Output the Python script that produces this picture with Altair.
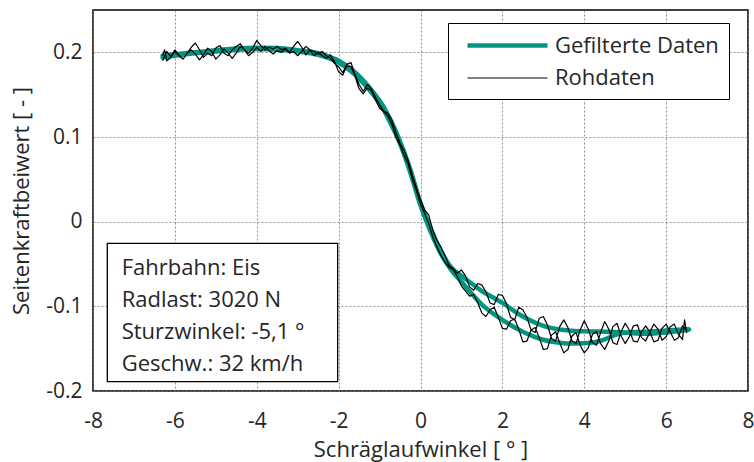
import altair as alt
import pandas as pd

TEAL = "#009682"
FONT = "Open Sans"
SERIES = ["Gefilterte Daten", "Rohdaten"]
X_TICKS = [-8, -6, -4, -2, 0, 2, 4, 6, 8]
Y_TICKS = [-0.2, -0.1, 0, 0.1, 0.2]
INFO_LINES = ["Fahrbahn: Eis", "Radlast: 3020 N", "Sturzwinkel: -5,1 °", "Geschw.: 32 km/h"]

# Filtered data, sweep up (x increasing)
FILT_FWD_X = [-6.3, -5.5, -5.0, -4.5, -4.0, -3.5, -3.0, -2.5, -2.0, -1.5,
              -1.0, -0.75, -0.5, -0.25, 0, 0.25, 0.5, 0.75, 1.0, 1.25,
              1.5, 2.0, 2.5, 3.0, 3.5, 4.0, 4.5, 5.0, 5.5, 6.0, 6.5]
FILT_FWD_Y = [0.196, 0.200, 0.2025, 0.2045, 0.2055, 0.205, 0.2025, 0.199, 0.190, 0.172,
              0.143, 0.122, 0.095, 0.062, 0.022, -0.008, -0.035, -0.054, -0.064, -0.073,
              -0.082, -0.096, -0.112, -0.123, -0.128, -0.1295, -0.130, -0.131, -0.1325, -0.131, -0.128]
# Filtered data, sweep back (x decreasing)
FILT_BWD_X = [6.5, 6.0, 5.5, 5.0, 4.75, 4.5, 4.25, 4.0, 3.5, 3.0,
              2.5, 2.0, 1.5, 1.0, 0.75, 0.5, 0.25, 0, -0.25, -0.5,
              -0.75, -1.0, -1.5, -2.0, -2.5, -3.0, -3.5, -4.0, -4.5, -5.0,
              -5.5, -6.0, -6.3]
FILT_BWD_Y = [-0.127, -0.1285, -0.130, -0.131, -0.134, -0.139, -0.1425, -0.1435, -0.1435, -0.1395,
              -0.130, -0.116, -0.098, -0.071, -0.057, -0.038, -0.012, 0.019, 0.058, 0.092,
              0.118, 0.140, 0.169, 0.188, 0.197, 0.201, 0.203, 0.204, 0.203, 0.201,
              0.199, 0.196, 0.194]

# Raw data, sweep up
RAW_FWD_X = [-6.3, -6.2, -6.1, -6.0, -5.9, -5.8, -5.7, -5.6, -5.5, -5.4,
             -5.3, -5.2, -5.1, -5.0, -4.9, -4.8, -4.7, -4.6, -4.5, -4.4,
             -4.3, -4.2, -4.1, -4.0, -3.9, -3.8, -3.7, -3.6, -3.5, -3.4,
             -3.3, -3.2, -3.1, -3.0, -2.9, -2.8, -2.7, -2.6, -2.5, -2.4,
             -2.3, -2.2, -2.1, -2.0, -1.9, -1.8, -1.7, -1.6, -1.5, -1.4,
             -1.3, -1.2, -1.1, -1.0, -0.9, -0.8, -0.7, -0.6, -0.5, -0.4,
             -0.3, -0.2, -0.1, 0.0, 0.1, 0.2, 0.3, 0.4, 0.5, 0.6,
             0.7, 0.8, 0.9, 1.0, 1.1, 1.2, 1.3, 1.4, 1.5, 1.6,
             1.7, 1.8, 1.9, 2.0, 2.1, 2.2, 2.3, 2.4, 2.5, 2.6,
             2.7, 2.8, 2.9, 3.0, 3.1, 3.2, 3.3, 3.4, 3.5, 3.6,
             3.7, 3.8, 3.9, 4.0, 4.1, 4.2, 4.3, 4.4, 4.5, 4.6,
             4.7, 4.8, 4.9, 5.0, 5.1, 5.2, 5.3, 5.4, 5.5, 5.6,
             5.7, 5.8, 5.9, 6.0, 6.1, 6.2, 6.3, 6.4, 6.5]
RAW_FWD_Y = [0.190, 0.201, 0.195, 0.203, 0.197, 0.192, 0.199, 0.206, 0.211, 0.203,
             0.194, 0.199, 0.196, 0.205, 0.208, 0.199, 0.196, 0.203, 0.207, 0.210,
             0.203, 0.199, 0.205, 0.214, 0.208, 0.203, 0.206, 0.204, 0.207, 0.203,
             0.205, 0.200, 0.207, 0.213, 0.206, 0.197, 0.203, 0.201, 0.198, 0.201,
             0.196, 0.193, 0.187, 0.183, 0.176, 0.186, 0.188, 0.174, 0.162, 0.154,
             0.162, 0.157, 0.147, 0.138, 0.131, 0.128, 0.120, 0.106, 0.093, 0.084,
             0.072, 0.055, 0.040, 0.026, 0.014, 0.008, -0.010, -0.022, -0.030, -0.040,
             -0.052, -0.055, -0.061, -0.057, -0.064, -0.077, -0.081, -0.073, -0.075, -0.083,
             -0.096, -0.098, -0.086, -0.087, -0.097, -0.113, -0.116, -0.101, -0.104, -0.113,
             -0.128, -0.131, -0.114, -0.112, -0.122, -0.138, -0.141, -0.124, -0.116, -0.125,
             -0.141, -0.144, -0.128, -0.117, -0.127, -0.143, -0.146, -0.131, -0.118, -0.127,
             -0.143, -0.145, -0.130, -0.120, -0.128, -0.141, -0.142, -0.130, -0.123, -0.130,
             -0.142, -0.140, -0.126, -0.121, -0.130, -0.140, -0.137, -0.123, -0.128]

# Raw data, sweep back
RAW_BWD_X = [6.5, 6.45, 6.4, 6.3, 6.2, 6.1, 6.0, 5.9, 5.8, 5.7,
             5.6, 5.5, 5.4, 5.3, 5.2, 5.1, 5.0, 4.9, 4.8, 4.7,
             4.6, 4.5, 4.4, 4.3, 4.2, 4.1, 4.0, 3.9, 3.8, 3.7,
             3.6, 3.5, 3.4, 3.3, 3.2, 3.1, 3.0, 2.9, 2.8, 2.7,
             2.6, 2.5, 2.4, 2.3, 2.2, 2.1, 2.0, 1.9, 1.8, 1.7,
             1.6, 1.5, 1.4, 1.3, 1.2, 1.1, 1.0, 0.9, 0.8, 0.7,
             0.6, 0.5, 0.4, 0.3, 0.2, 0.1, 0.0, -0.1, -0.2, -0.3,
             -0.4, -0.5, -0.6, -0.7, -0.8, -0.9, -1.0, -1.1, -1.2, -1.3,
             -1.4, -1.5, -1.6, -1.7, -1.8, -1.9, -2.0, -2.1, -2.2, -2.3,
             -2.4, -2.5, -2.6, -2.7, -2.8, -2.9, -3.0, -3.1, -3.2, -3.3,
             -3.4, -3.5, -3.6, -3.7, -3.8, -3.9, -4.0, -4.1, -4.2, -4.3,
             -4.4, -4.5, -4.6, -4.7, -4.8, -4.9, -5.0, -5.1, -5.2, -5.3,
             -5.4, -5.5, -5.6, -5.7, -5.8, -5.9, -6.0, -6.1, -6.2, -6.25,
             -6.3]
RAW_BWD_Y = [-0.131, -0.116, -0.139, -0.133, -0.121, -0.124, -0.136, -0.140, -0.127, -0.121,
             -0.131, -0.141, -0.137, -0.122, -0.123, -0.136, -0.144, -0.135, -0.120, -0.124,
             -0.141, -0.151, -0.144, -0.130, -0.133, -0.149, -0.155, -0.146, -0.131, -0.135,
             -0.151, -0.155, -0.143, -0.130, -0.134, -0.150, -0.151, -0.137, -0.125, -0.128,
             -0.141, -0.142, -0.127, -0.115, -0.117, -0.127, -0.126, -0.113, -0.101, -0.104,
             -0.112, -0.108, -0.096, -0.086, -0.088, -0.082, -0.076, -0.065, -0.057, -0.054,
             -0.048, -0.040, -0.030, -0.018, -0.002, 0.010, 0.021, 0.036, 0.050, 0.068,
             0.078, 0.090, 0.100, 0.115, 0.125, 0.130, 0.134, 0.144, 0.155, 0.158,
             0.151, 0.157, 0.172, 0.183, 0.184, 0.173, 0.177, 0.189, 0.197, 0.193,
             0.196, 0.200, 0.196, 0.203, 0.207, 0.201, 0.196, 0.201, 0.199, 0.204,
             0.200, 0.202, 0.198, 0.202, 0.207, 0.201, 0.206, 0.200, 0.196, 0.203,
             0.207, 0.199, 0.193, 0.199, 0.204, 0.197, 0.192, 0.201, 0.205, 0.197,
             0.191, 0.198, 0.203, 0.199, 0.192, 0.196, 0.201, 0.194, 0.190, 0.203,
             0.196]

filt_x = FILT_FWD_X + FILT_BWD_X
filt_y = FILT_FWD_Y + FILT_BWD_Y
raw_x = RAW_FWD_X + RAW_BWD_X
raw_y = RAW_FWD_Y + RAW_BWD_Y

df_f = pd.DataFrame({"x": filt_x, "y": filt_y, "i": range(len(filt_x)), "series": SERIES[0]})
df_r = pd.DataFrame({"x": raw_x, "y": raw_y, "i": range(len(raw_x)), "series": SERIES[1]})

W, H = 655, 381
WEIGHT = 400

x_enc = alt.X("x:Q", scale=alt.Scale(domain=[-8, 8], nice=False, zero=False),
              axis=alt.Axis(values=X_TICKS, title="Schräglaufwinkel [ ° ]",
                            labelExpr="datum.value + ''", labelFlush=False, labelOverlap=False,
                            labelPadding=19, titleX=W / 2, titleY=65,
                            titleBaseline="alphabetic", titleAlign="center"))
y_enc = alt.Y("y:Q", scale=alt.Scale(domain=[-0.2, 0.25], nice=False, zero=False),
              axis=alt.Axis(values=Y_TICKS, title="Seitenkraftbeiwert [ - ]",
                            labelExpr="datum.value + ''", labelFlush=False, labelOverlap=False,
                            labelPadding=11, titleX=-60, titleY=H / 2, titleAngle=270,
                            titleBaseline="bottom", titleAlign="center"))

legend = alt.Legend(title=None, orient="none", legendX=355, legendY=13,
                    symbolType="M-4,0H4", symbolSize=400)
color_enc = alt.Color("series:N", scale=alt.Scale(domain=SERIES, range=[TEAL, "black"]), legend=legend)
sw_enc = alt.StrokeWidth("series:N", scale=alt.Scale(domain=SERIES, range=[4.5, 1.2]), legend=legend)

filt = alt.Chart(df_f).mark_line(interpolate="cardinal", strokeCap="round").encode(
    x=x_enc, y=y_enc, order="i:Q", color=color_enc, strokeWidth=sw_enc)
raw = alt.Chart(df_r).mark_line(strokeJoin="round").encode(
    x=x_enc, y=y_enc, order="i:Q", color=color_enc, strokeWidth=sw_enc)

dummy = pd.DataFrame({"k": [0]})
box = alt.Chart(dummy).mark_rect(fill="white", stroke="black", strokeWidth=1.3).encode(
    x=alt.value(14.3), x2=alt.value(244.7), y=alt.value(233.3), y2=alt.value(371.7))
txt = alt.Chart(dummy).mark_text(align="left", baseline="top", font=FONT, fontSize=22,
                                 fontWeight=WEIGHT, lineHeight=32.2, color="#262626").encode(
    x=alt.value(28.7), y=alt.value(247.6), text=alt.value(INFO_LINES))

chart = alt.layer(filt, raw, box, txt).properties(
    width=W, height=H,
    padding={"left": 93, "top": 10, "right": 6, "bottom": 71},
    autosize=alt.AutoSizeParams(type="none"),
    background="white",
).configure_view(
    stroke="black", strokeWidth=1.5
).configure_axis(
    domain=False, ticks=False, grid=True, gridColor="#777777", gridDash=[2, 2], gridWidth=0.8,
    labelFont=FONT, labelFontSize=21, labelColor="#262626", labelFontWeight=WEIGHT,
    titleFont=FONT, titleFontSize=22, titleFontWeight=WEIGHT, titleColor="#262626",
).configure_legend(
    padding=10, strokeColor="black", fillColor="white",
    labelFont=FONT, labelFontSize=22, labelColor="#262626", labelFontWeight=WEIGHT,
    labelLimit=400, rowPadding=10, symbolOffset=37, labelOffset=35,
)

chart.save("out.html", embed_options={"renderer": "svg", "actions": False})
